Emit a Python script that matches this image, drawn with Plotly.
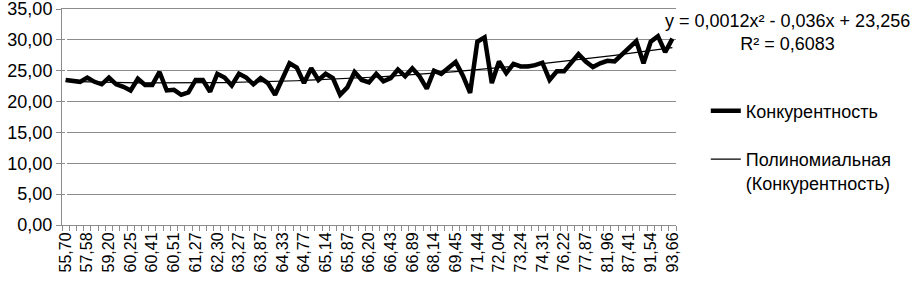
import numpy as np
import plotly.graph_objects as go

tick_labels = ["55,70", "57,58", "59,20", "60,25", "60,41", "60,51", "61,27", "62,30",
               "63,27", "63,87", "64,33", "64,77", "65,14", "65,87", "66,20", "66,43",
               "66,89", "68,14", "69,45", "71,44", "72,04", "73,24", "74,31", "76,22",
               "77,87", "81,96", "87,41", "91,54", "93,66"]

concurrency = [23.5, 23.3, 23.2, 23.9, 23.2, 22.8, 23.9, 22.8, 22.4, 21.8,
               23.7, 22.7, 22.7, 24.8, 21.8, 21.9, 21.1, 21.5, 23.5, 23.5,
               21.6, 24.5, 23.9, 22.6, 24.5, 23.9, 22.8, 23.8, 23.0, 21.1,
               23.8, 26.2, 25.5, 23.0, 25.4, 23.5, 24.5, 23.8, 21.1, 22.3,
               24.8, 23.5, 23.1, 24.5, 23.3, 23.8, 25.2, 24.1, 25.4, 24.1,
               22.1, 25.0, 24.5, 25.4, 26.4, 24.2, 21.4, 29.7, 30.4, 23.0,
               26.5, 24.6, 26.1, 25.7, 25.7, 25.9, 26.3, 23.5, 24.9, 24.9,
               26.4, 27.7, 26.5, 25.6, 26.2, 26.6, 26.5, 27.6, 28.7, 29.8,
               26.2, 29.7, 30.6, 28.0, 30.2]

series_name = "Конкурентность"
trend_name = "Полиномиальная<br>(Конкурентность)"
equation_text = "y = 0,0012x² - 0,036x + 23,256<br>R² = 0,6083"

n = len(concurrency)
idx = np.arange(n)
xnum = idx + 1
coef = np.polyfit(xnum, concurrency, 2)
trend = np.polyval(coef, xnum)

label_step = 3
tickvals = list(range(0, n, label_step))

font = "Liberation Sans, Arial, sans-serif"
grid = "#8c8c8c"

fig = go.Figure()
fig.add_trace(go.Scatter(x=idx, y=concurrency, mode="lines", name=series_name,
                         line=dict(color="black", width=4.5), legendgroup="a"))
fig.add_trace(go.Scatter(x=idx, y=trend, mode="lines", name=trend_name,
                         line=dict(color="black", width=1.2), legendgroup="b"))

fig.update_layout(
    width=919, height=283,
    margin=dict(l=62, r=243, t=9, b=58, autoexpand=False),
    paper_bgcolor="white", plot_bgcolor="white",
    font=dict(family=font, size=18, color="black"),
    showlegend=True,
    legend=dict(xref="container", yref="container", x=0.768, y=0.673,
                xanchor="left", yanchor="top", valign="top",
                tracegroupgap=22, font=dict(size=18, family=font),
                bgcolor="rgba(0,0,0,0)"),
    annotations=[dict(text=equation_text, xref="paper", yref="paper",
                      x=1.181, y=1.0, xanchor="center", yanchor="top",
                      showarrow=False, align="center",
                      font=dict(size=18, family=font, color="black"))],
    separators=", ",
)

fig.update_xaxes(range=[-0.5, n - 0.5], tickmode="array", tickvals=tickvals,
                 ticktext=tick_labels, tickangle=-90, ticks="", showgrid=False,
                 showline=True, mirror=True, linecolor=grid, linewidth=1,
                 automargin=False, tickfont=dict(size=16, family=font),
                 minor=dict(tickmode="array", tickvals=[i - 0.5 for i in range(n + 1)],
                            ticks="outside", ticklen=5, tickcolor=grid, showgrid=False))
fig.update_yaxes(range=[0, 35], tickmode="array", tickvals=[0, 5, 10, 15, 20, 25, 30, 35],
                 tickformat=".2f", ticklabeloverflow="allow", automargin=False,
                 showgrid=True, gridcolor=grid, gridwidth=1, zeroline=False,
                 showline=True, linecolor=grid, linewidth=1, ticks="outside",
                 ticklen=5, tickcolor=grid, tickfont=dict(size=18, family=font))

fig.write_html("out.html", config={"displayModeBar": False},
               post_script="document.body.style.margin='0';")
